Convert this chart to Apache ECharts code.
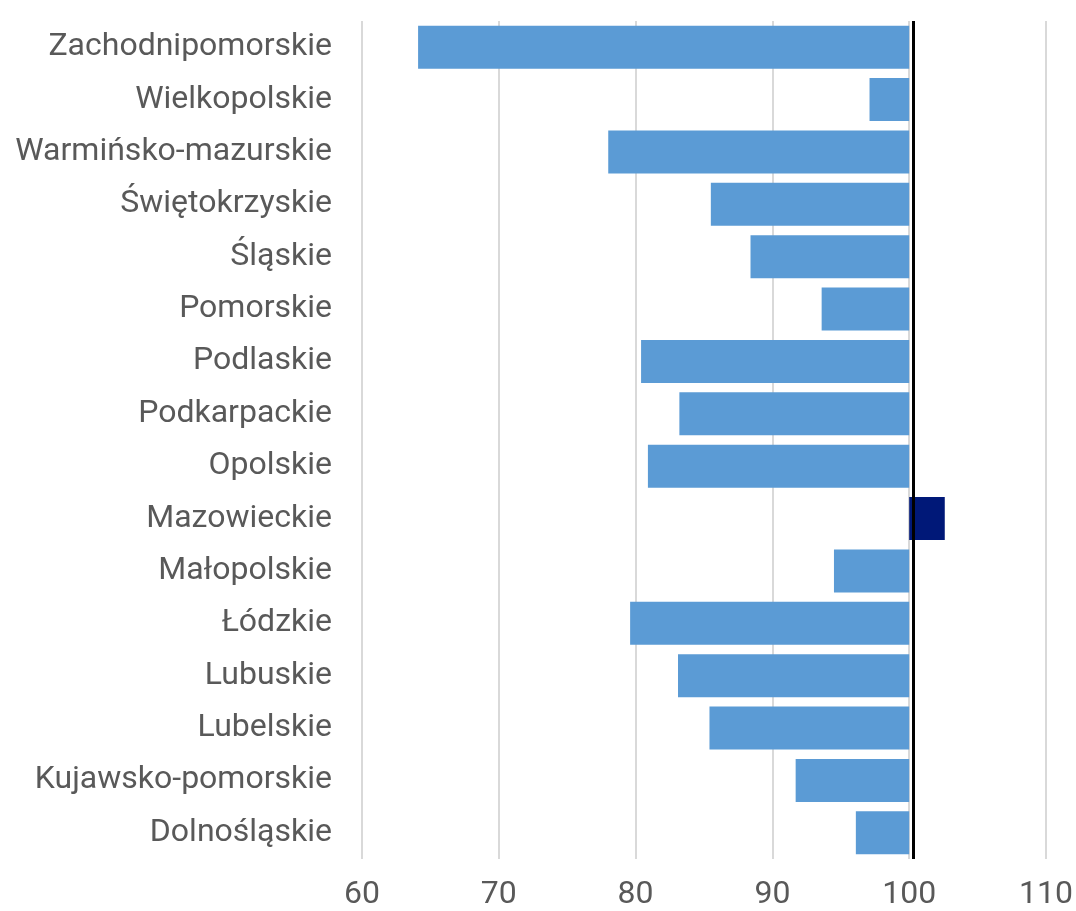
<!DOCTYPE html>
<html>
<head>
<meta charset="utf-8">
<script src="https://cdn.jsdelivr.net/npm/echarts@6/dist/echarts.min.js"></script>
<style>
html,body{margin:0;padding:0;background:#fff;}
#chart{width:1076px;height:911px;}
</style>
</head>
<body>
<div id="chart"></div>
<script>
// Data (top to bottom)
const categories = [
  "Zachodnipomorskie","Wielkopolskie","Warmińsko-mazurskie","Świętokrzyskie","Śląskie",
  "Pomorskie","Podlaskie","Podkarpackie","Opolskie","Mazowieckie","Małopolskie",
  "Łódzkie","Lubuskie","Lubelskie","Kujawsko-pomorskie","Dolnośląskie"
];
const values = [64.1, 97.1, 78.0, 85.5, 88.4, 93.6, 80.4, 83.2, 80.9, 102.6, 94.5, 79.6, 83.1, 85.4, 91.7, 96.1];
const baseline = 100;
const xTicks = [60, 70, 80, 90, 100, 110];

const colorBelow = "#5B9BD5";
const colorAbove = "#001878";
const fontFamily = "Roboto";

const baseData = values.map(v => Math.min(v, baseline));
const deltaData = values.map(v => ({
  value: Math.abs(v - baseline),
  itemStyle: { color: v > baseline ? colorAbove : colorBelow }
}));

const chart = echarts.init(document.getElementById('chart'));
chart.setOption({
  animation: false,
  grid: { left: 362, right: 30, top: 21, bottom: 52 },
  xAxis: {
    type: 'value',
    min: xTicks[0],
    max: xTicks[xTicks.length - 1],
    interval: 10,
    axisLine: { show: false },
    axisTick: { show: false },
    splitLine: { show: true, lineStyle: { color: '#D9D9D9', width: 2 } },
    axisLabel: { color: '#595959', fontSize: 32, fontFamily: fontFamily, margin: 20 }
  },
  yAxis: {
    type: 'category',
    data: categories,
    inverse: true,
    axisLine: { show: false },
    axisTick: { show: false },
    axisLabel: { color: '#595959', fontSize: 32, fontFamily: fontFamily, margin: 30 }
  },
  series: [
    {
      type: 'bar',
      stack: 'a',
      data: baseData,
      itemStyle: { color: 'rgba(0,0,0,0)' },
      barCategoryGap: '18%',
      silent: true
    },
    {
      type: 'bar',
      stack: 'a',
      data: deltaData,
      barCategoryGap: '18%',
      markLine: {
        silent: true,
        symbol: 'none',
        label: { show: false },
        lineStyle: { color: '#000', width: 3, type: 'solid' },
        data: [{ xAxis: 100.3 }]
      }
    }
  ]
});
</script>
</body>
</html>
